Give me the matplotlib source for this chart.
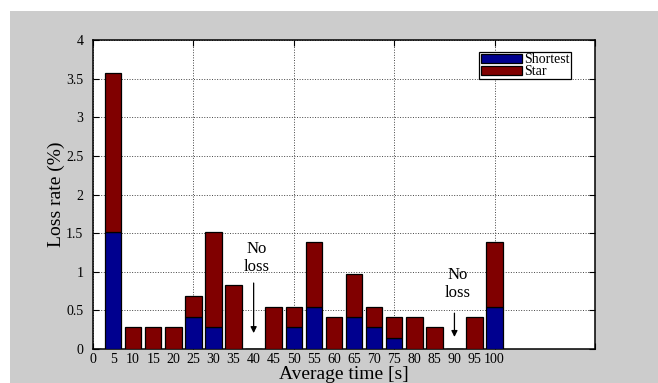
import matplotlib.pyplot as plt
from matplotlib.patches import Rectangle

plt.rcParams['font.family'] = ['Liberation Serif', 'DejaVu Serif']

# average time categories (s)
times = [0, 5, 10, 15, 20, 25, 30, 35, 40, 45, 50, 55, 60, 65, 70, 75, 80, 85, 90, 95, 100]
# loss rate (%): shortest part and total stack height
shortest = [0, 1.51, 0, 0, 0, 0.41, 0.28, 0, 0, 0, 0.28, 0.55, 0, 0.41, 0.28, 0.14, 0, 0, 0, 0, 0.55]
total = [0, 3.57, 0.28, 0.28, 0.28, 0.69, 1.52, 0.83, 0, 0.55, 0.55, 1.38, 0.41, 0.97, 0.55, 0.41, 0.41, 0.28, 0, 0.41, 1.38]
star = [t - s for t, s in zip(total, shortest)]

fig = plt.figure(figsize=(6.58, 3.83), dpi=100, facecolor='white')
fig.patches.append(Rectangle((10/658, 0), 1, 1 - 11/383, transform=fig.transFigure,
                             facecolor='#cccccc', edgecolor='none', zorder=-10))
ax = fig.add_axes([93/658, 1 - 349/383, (595 - 93)/658, (349 - 40)/383])

pos = list(range(len(times)))
ax.bar(pos, shortest, width=0.82, color='#00008f', edgecolor='black', linewidth=0.9,
       label='Shortest', zorder=3)
ax.bar(pos, star, width=0.82, bottom=shortest, color='#800000', edgecolor='black',
       linewidth=0.9, label='Star', zorder=3)

ax.set_xlim(0, 25)
ax.set_ylim(0, 4)

# grid follows major ticks every 5 positions, labels on each category
ax.xaxis.remove_overlapping_locs = False
ax.set_xticks(range(0, 26, 5))
ax.set_xticklabels([])
ax.set_xticks(pos, [str(t) for t in times], minor=True)
ax.tick_params(axis='x', which='minor', length=0, labelsize=10, pad=3)
ax.tick_params(axis='both', which='major', direction='in', length=4, width=0.8,
               top=True, right=True, labelsize=10)
ax.tick_params(axis='y', pad=7)
ax.set_yticks([0, 0.5, 1, 1.5, 2, 2.5, 3, 3.5, 4])
ax.set_yticklabels(['0', '0.5', '1', '1.5', '2', '2.5', '3', '3.5', '4'])
ax.grid(True, which='major', linestyle=':', color='#444444', linewidth=0.7, zorder=0)
for s in ax.spines.values():
    s.set_linewidth(1.1)

ax.set_ylabel('Loss rate (%)', fontsize=14, labelpad=1)
ax.set_xlabel('Average time [s]', fontsize=14, labelpad=0)

for t, ytxt, ytop, ybot in [(40, 1.18, 0.89, 0.17), (90, 0.84, 0.50, 0.12)]:
    i = times.index(t)
    ax.text(i + 0.15, ytxt, 'No\nloss', ha='center', va='center', fontsize=12,
            linespacing=1.15)
    ax.annotate('', xy=(i, ybot), xytext=(i, ytop),
                arrowprops=dict(arrowstyle='-|>', color='black', lw=0.9,
                                mutation_scale=9))

leg = ax.legend(loc='upper right', bbox_to_anchor=(0.953, 0.961), fontsize=10,
                frameon=True, fancybox=False, edgecolor='black', framealpha=1,
                handlelength=3.0, handleheight=0.6, handletextpad=0.15,
                borderpad=0.1, labelspacing=-0.1, borderaxespad=0)
leg.get_frame().set_linewidth(0.9)

fig.savefig('out.png', dpi=100, facecolor=fig.get_facecolor())
